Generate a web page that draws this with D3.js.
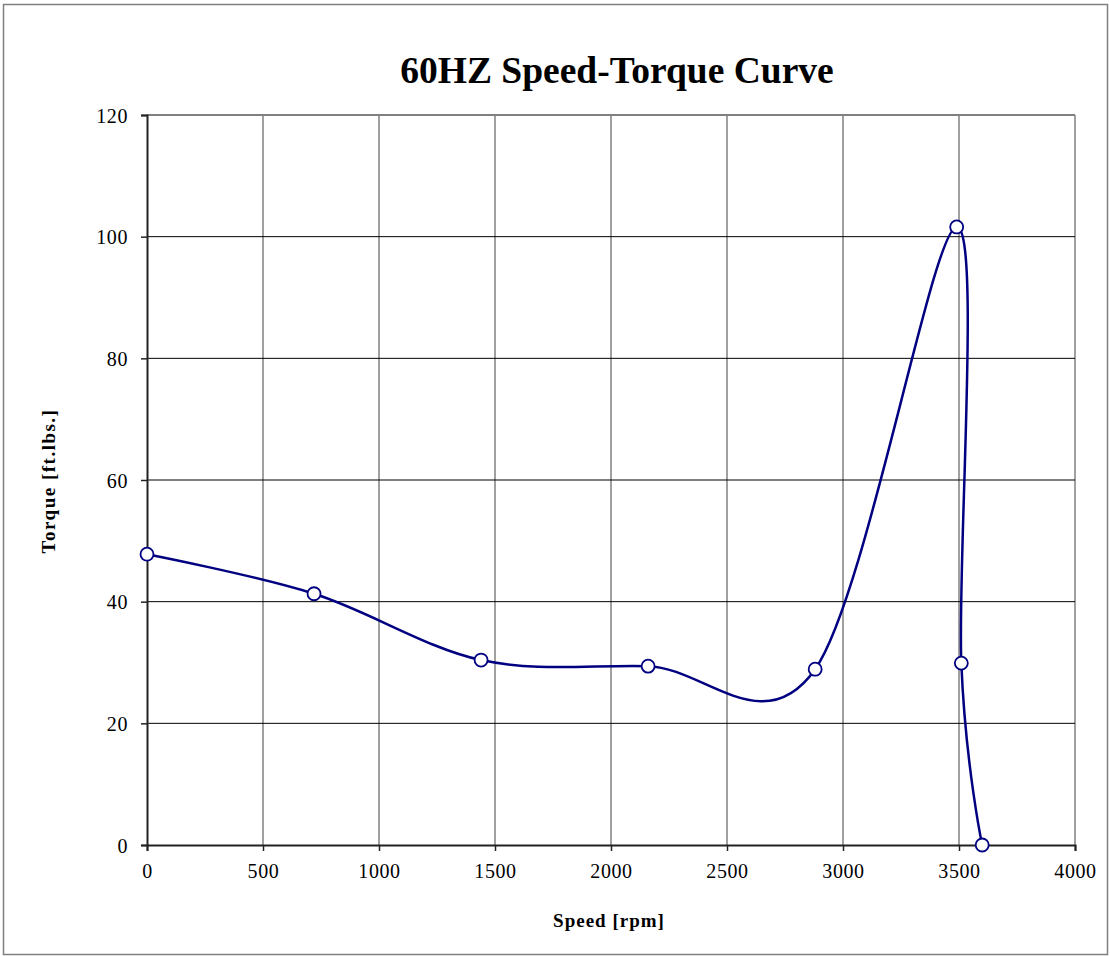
<!DOCTYPE html>
<html>
<head>
<meta charset="utf-8">
<script src="https://cdn.jsdelivr.net/npm/d3@7"></script>
<style>
  body { margin: 0; background: #fff; }
  svg { display: block; }
</style>
</head>
<body>
<div id="chart"></div>
<script>
// data
const speed = [0, 720, 1440, 2160, 2880, 3490, 3510, 3600];
const torque = [47.8, 41.3, 30.4, 29.4, 28.9, 101.6, 29.9, 0];
const xTicks = [0, 500, 1000, 1500, 2000, 2500, 3000, 3500, 4000];
const yTicks = [0, 20, 40, 60, 80, 100, 120];

const width = 1110;
const height = 956;
const plot = { left: 147, right: 1075, top: 115, bottom: 845 };
const serif = '"Liberation Serif", "Times New Roman", serif';

const svg = d3
    .select('#chart')
    .append('svg')
    .attr('width', width)
    .attr('height', height)
    .style('font-family', serif);

// outer frame
svg.append('rect')
    .attr('x', 3.5)
    .attr('y', 4.5)
    .attr('width', 1104)
    .attr('height', 950)
    .attr('fill', 'none')
    .attr('stroke', '#808080')
    .attr('stroke-width', 1.5);

const x = d3.scaleLinear().domain([0, 4000]).range([plot.left, plot.right]);
const y = d3.scaleLinear().domain([0, 120]).range([plot.bottom, plot.top]);

// gridlines
svg.append('g')
    .selectAll('line')
    .data(xTicks.slice(1))
    .enter()
    .append('line')
    .attr('x1', (d) => x(d))
    .attr('x2', (d) => x(d))
    .attr('y1', plot.top)
    .attr('y2', plot.bottom)
    .attr('stroke', '#808080')
    .attr('stroke-width', 1.5);

svg.append('g')
    .selectAll('line')
    .data(yTicks.slice(1, -1))
    .enter()
    .append('line')
    .attr('x1', plot.left)
    .attr('x2', plot.right)
    .attr('y1', (d) => y(d))
    .attr('y2', (d) => y(d))
    .attr('stroke', '#000')
    .attr('stroke-width', 1);

// top border
svg.append('line')
    .attr('x1', plot.left)
    .attr('x2', plot.right)
    .attr('y1', plot.top)
    .attr('y2', plot.top)
    .attr('stroke', '#808080')
    .attr('stroke-width', 2);

// axes
const xAxis = d3.axisBottom(x).tickValues(xTicks).tickSize(6).tickPadding(13).tickFormat(d3.format('d'));
const yAxis = d3.axisLeft(y).tickValues(yTicks).tickSize(6).tickPadding(13);

const gx = svg.append('g')
    .attr('transform', `translate(0,${plot.bottom})`)
    .call(xAxis);
const gy = svg.append('g')
    .attr('transform', `translate(${plot.left},0)`)
    .call(yAxis);

[gx, gy].forEach((g) => {
    g.select('.domain').attr('stroke', '#222').attr('stroke-width', 2);
    g.selectAll('.tick line').attr('stroke', '#222').attr('stroke-width', 1.5);
    g.selectAll('.tick text')
        .attr('fill', '#000')
        .style('font-family', serif)
        .style('font-size', '20px')
        .style('letter-spacing', '0.6px');
});
gy.selectAll('.tick text').attr('dy', '0.35em');

// title
svg.append('text')
    .attr('x', 617)
    .attr('y', 83)
    .attr('text-anchor', 'middle')
    .style('font-size', '37.5px')
    .style('font-weight', 'bold')
    .text('60HZ Speed-Torque Curve');

svg.append('text')
    .attr('x', 609)
    .attr('y', 927)
    .attr('text-anchor', 'middle')
    .style('font-size', '19px')
    .style('font-weight', 'bold')
    .style('letter-spacing', '1px')
    .text('Speed [rpm]');

svg.append('text')
    .attr('transform', 'translate(55,481) rotate(-90)')
    .attr('text-anchor', 'middle')
    .style('font-size', '19px')
    .style('font-weight', 'bold')
    .style('letter-spacing', '1.5px')
    .text('Torque [ft.lbs.]');

// series
const data = speed.map((s, i) => ({ speed: s, torque: torque[i] }));

const line = d3
    .line()
    .x((d) => x(d.speed))
    .y((d) => y(d.torque))
    .curve(d3.curveCardinal.tension(0));

svg.append('path')
    .datum(data)
    .attr('d', line)
    .attr('fill', 'none')
    .attr('stroke', '#000080')
    .attr('stroke-width', 2.5);

svg.append('g')
    .selectAll('circle')
    .data(data)
    .enter()
    .append('circle')
    .attr('cx', (d) => x(d.speed))
    .attr('cy', (d) => y(d.torque))
    .attr('r', 6.5)
    .attr('fill', '#fff')
    .attr('stroke', '#000080')
    .attr('stroke-width', 1.8);
</script>
</body>
</html>
